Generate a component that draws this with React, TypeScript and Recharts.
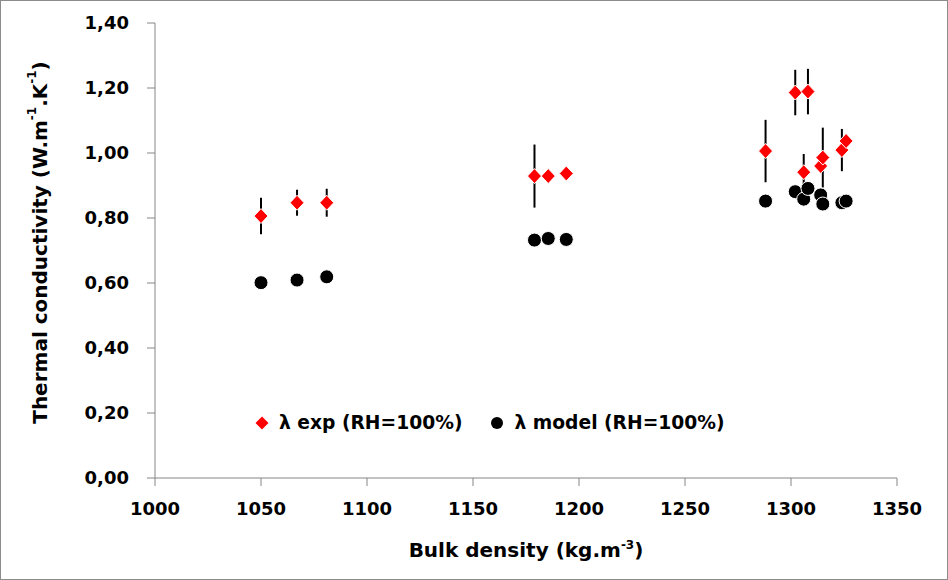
import { ErrorBar, Label, Legend, Scatter, ScatterChart, XAxis, YAxis } from 'recharts';

// bulk density (kg.m-3) of each sample
const density = [1050, 1067, 1081, 1179, 1185.5, 1194, 1288, 1302, 1306, 1308, 1314, 1315, 1324, 1326];
// measured conductivity and its spread
const lambdaExp = [0.806, 0.847, 0.847, 0.929, 0.929, 0.937, 1.006, 1.186, 0.941, 1.189, 0.96, 0.986, 1.009, 1.037];
const lambdaExpErr = [0.056, 0.04, 0.043, 0.097, 0, 0, 0.096, 0.07, 0.056, 0.07, 0, 0.092, 0.065, 0];
// model prediction
const lambdaModel = [0.601, 0.609, 0.619, 0.732, 0.737, 0.734, 0.852, 0.881, 0.858, 0.891, 0.871, 0.843, 0.847, 0.852];

const xTicks = [1000, 1050, 1100, 1150, 1200, 1250, 1300, 1350];
const yTicks = [0, 0.2, 0.4, 0.6, 0.8, 1.0, 1.2, 1.4];

const expData = density.map((x, i) => ({ x, y: lambdaExp[i], err: lambdaExpErr[i] }));
const modelData = density.map((x, i) => ({ x, y: lambdaModel[i] }));

const FONT = '"DejaVu Sans", sans-serif';
const AXIS = '#868686';
const RED = '#ff0000';

const tickStyle = { fontSize: 18, fontWeight: 700, fill: '#000', fontFamily: FONT };

function Diamond({ cx, cy }: any) {
  return (
    <path
      d={`M${cx},${cy - 7.5}L${cx + 7},${cy}L${cx},${cy + 7.5}L${cx - 7},${cy}Z`}
      fill={RED}
      stroke="#fff"
      strokeWidth={1}
    />
  );
}

function Dot({ cx, cy }: any) {
  return <circle cx={cx} cy={cy} r={7} fill="#000" stroke="#fff" strokeWidth={1} />;
}

function YTitle({ viewBox }: any) {
  const cx = 39;
  const cy = viewBox.y + viewBox.height / 2 - 8;
  return (
    <text
      x={cx}
      y={cy}
      transform={`rotate(-90, ${cx}, ${cy})`}
      textAnchor="middle"
      dominantBaseline="central"
      style={{ fontSize: 20, fontWeight: 700, fontFamily: FONT }}
    >
      Thermal conductivity (W.m<tspan dy={-8} fontSize={12}>-1</tspan>
      <tspan dy={8}>.K</tspan>
      <tspan dy={-8} fontSize={12}>-1</tspan>
      <tspan dy={8}>)</tspan>
    </text>
  );
}

function XTitle({ viewBox }: any) {
  const cx = viewBox.x + viewBox.width / 2;
  return (
    <text x={cx} y={556} textAnchor="middle" style={{ fontSize: 20, fontWeight: 700, fontFamily: FONT }}>
      Bulk density (kg.m<tspan dy={-8} fontSize={12}>-3</tspan>
      <tspan dy={8}>)</tspan>
    </text>
  );
}

function LegendBox() {
  const item = { display: 'flex', alignItems: 'center', gap: 10 };
  return (
    <div style={{ display: 'flex', gap: 28, fontFamily: FONT, fontSize: 18.7, fontWeight: 700, color: '#000' }}>
      <div style={item}>
        <svg width={14} height={14}>
          <path d="M7,0.5L13.5,7L7,13.5L0.5,7Z" fill={RED} />
        </svg>
        <span>λ exp (RH=100%)</span>
      </div>
      <div style={item}>
        <svg width={14} height={14}>
          <circle cx={7} cy={7} r={6} fill="#000" />
        </svg>
        <span>λ model (RH=100%)</span>
      </div>
    </div>
  );
}

const noMark = () => <g />;

export default function App() {
  return (
    <div
      style={{
        position: 'absolute',
        left: 0,
        top: 0,
        width: 948,
        height: 580,
        boxSizing: 'border-box',
        border: '1px solid #8c8c8c',
        background: '#fff',
      }}
    >
      <ScatterChart width={946} height={578} margin={{ top: 22, right: 50, left: 0, bottom: 0 }}>
        <XAxis
          type="number"
          dataKey="x"
          domain={[1000, 1350]}
          ticks={xTicks}
          tick={tickStyle}
          tickSize={8}
          tickMargin={16}
          height={101}
          stroke={AXIS}
          allowDataOverflow
        >
          <Label content={<XTitle />} />
        </XAxis>
        <YAxis
          type="number"
          dataKey="y"
          domain={[0, 1.4]}
          ticks={yTicks}
          tick={tickStyle}
          tickFormatter={(v: number) => v.toFixed(2).replace('.', ',')}
          tickSize={8}
          tickMargin={18}
          width={154}
          stroke={AXIS}
        >
          <Label content={<YTitle />} />
        </YAxis>
        <Legend
          layout="horizontal"
          verticalAlign="middle"
          align="center"
          content={<LegendBox />}
          wrapperStyle={{ position: 'absolute', top: 411, left: 254, width: 580 }}
        />
        {/* error bars first so the diamonds sit on top of them */}
        <Scatter name="err" data={expData} shape={noMark} isAnimationActive={false}>
          <ErrorBar dataKey="err" direction="y" width={0} stroke="#000" strokeWidth={2} />
        </Scatter>
        <Scatter name="λ exp (RH=100%)" data={expData} shape={<Diamond />} isAnimationActive={false} />
        <Scatter name="λ model (RH=100%)" data={modelData} shape={<Dot />} isAnimationActive={false} />
      </ScatterChart>
    </div>
  );
}
